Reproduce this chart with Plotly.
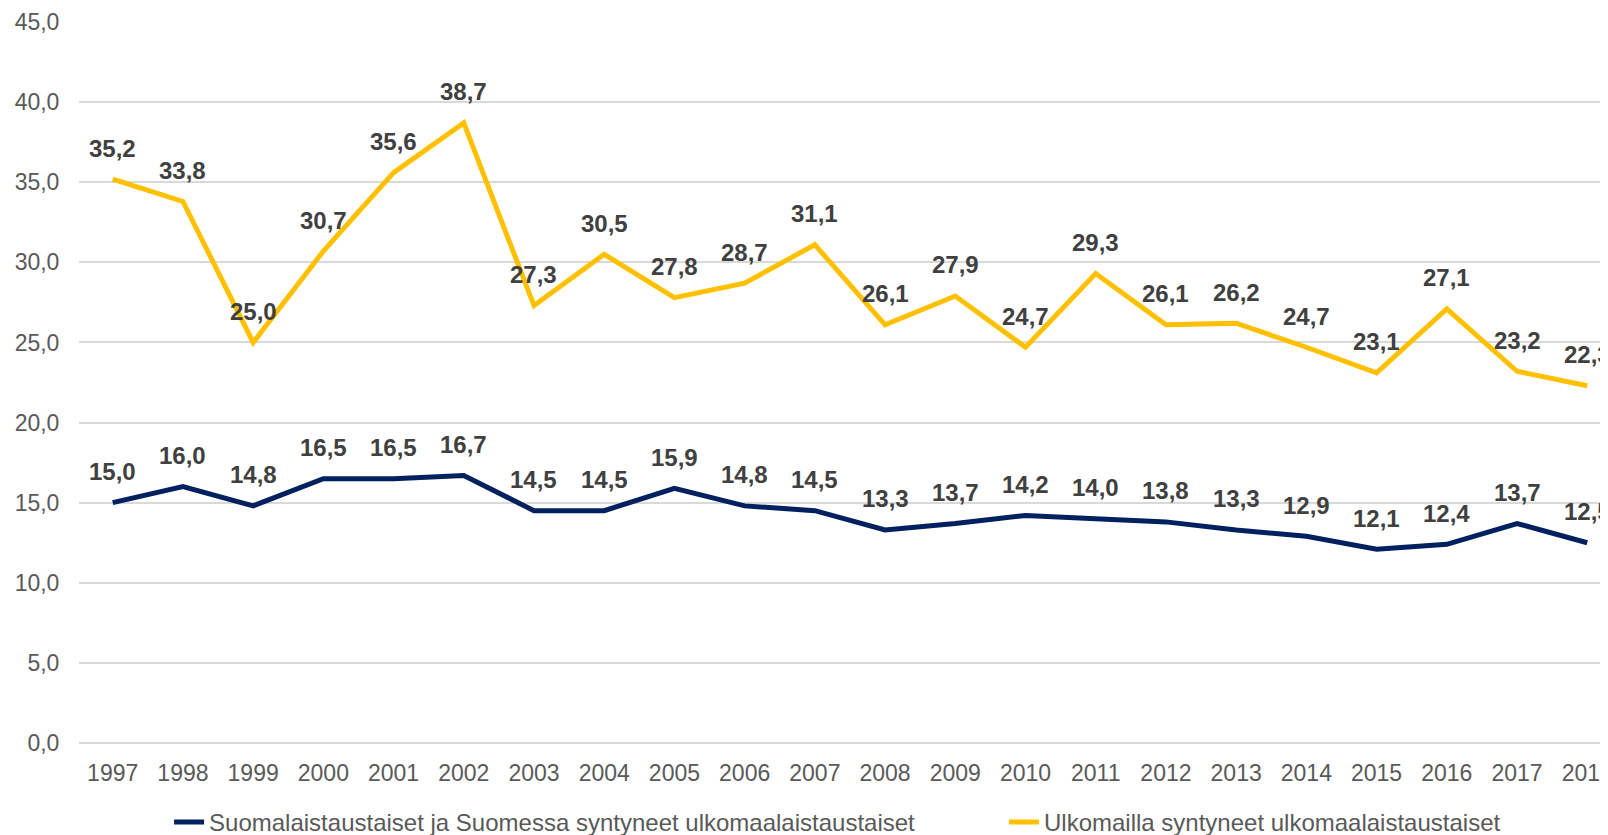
import plotly.graph_objects as go

years = list(range(1997, 2019))
suomi = [15.0, 16.0, 14.8, 16.5, 16.5, 16.7, 14.5, 14.5, 15.9, 14.8, 14.5,
         13.3, 13.7, 14.2, 14.0, 13.8, 13.3, 12.9, 12.1, 12.4, 13.7, 12.5]
ulko = [35.2, 33.8, 25.0, 30.7, 35.6, 38.7, 27.3, 30.5, 27.8, 28.7, 31.1,
        26.1, 27.9, 24.7, 29.3, 26.1, 26.2, 24.7, 23.1, 27.1, 23.2, 22.3]
series_names = ["Suomalaistaustaiset ja Suomessa syntyneet ulkomaalaistaustaiset",
                "Ulkomailla syntyneet ulkomaalaistaustaiset"]
y_ticks = [0, 5, 10, 15, 20, 25, 30, 35, 40, 45]

NAVY = "#002060"
YELLOW = "#FFC000"
FONT = "Liberation Sans, Arial, sans-serif"

fig = go.Figure()
for name, vals, col, lg in [(series_names[0], suomi, NAVY, "legend"),
                            (series_names[1], ulko, YELLOW, "legend2")]:
    fig.add_trace(go.Scatter(x=years, y=vals, mode="lines", name=name,
                             line=dict(color=col, width=5), legend=lg,
                             hoverinfo="x+y"))
    for x, v in zip(years, vals):
        fig.add_annotation(x=x, y=v, text=f"{v:.1f}".replace(".", ","),
                           showarrow=False, yanchor="middle", xanchor="center",
                           yshift=31,
                           font=dict(family=FONT, size=24, color="#404040", weight="bold"))

legend_common = dict(orientation="h", yanchor="middle", y=-0.110,
                     font=dict(family=FONT, size=24, color="#595959"),
                     bgcolor="rgba(0,0,0,0)", xanchor="left")

fig.update_layout(
    width=1608, height=835, autosize=False,
    margin=dict(l=71, r=0, t=14, b=100, autoexpand=False),
    paper_bgcolor="white", plot_bgcolor="white",
    font=dict(family=FONT, size=23, color="#595959"),
    separators=", ",
    showlegend=True,
    legend=dict(x=0.0586, **legend_common),
    legend2=dict(x=0.6018, **legend_common),
)
fig.update_xaxes(range=[1996.52, 2018.41], tickvals=years, ticktext=[str(y) for y in years],
                 showgrid=False, showline=False, zeroline=False,
                 ticks="outside", ticklen=9, tickcolor="rgba(0,0,0,0)",
                 ticklabeloverflow="allow",
                 tickfont=dict(size=23, color="#595959"))
fig.update_yaxes(range=[0, 45], tickvals=y_ticks, tickformat=".1f",
                 showgrid=True, gridcolor="#d9d9d9", gridwidth=1.5,
                 zeroline=True, zerolinecolor="#d9d9d9", zerolinewidth=1.5,
                 showline=False,
                 ticks="outside", ticklen=14, tickcolor="rgba(0,0,0,0)",
                 tickfont=dict(size=23, color="#595959"))

fig.write_html("out.html")
